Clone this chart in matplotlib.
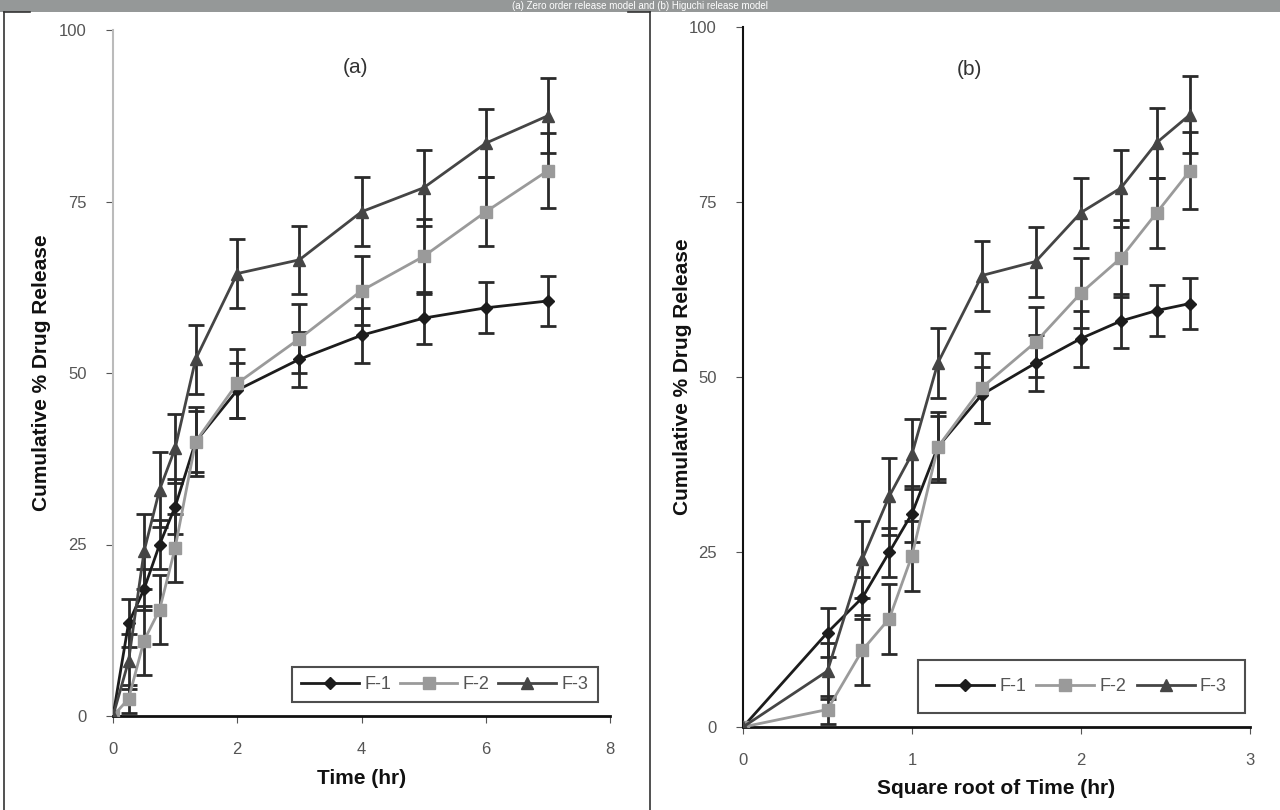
import matplotlib.pyplot as plt
from matplotlib.lines import Line2D
from matplotlib.patches import Rectangle

# sampling times (hr) and their square roots
time_hr = [0, 0.25, 0.5, 0.75, 1, 1.33, 2, 3, 4, 5, 6, 7]
sqrt_time = [0, 0.5, 0.707, 0.866, 1, 1.153, 1.414, 1.732, 2, 2.236, 2.449, 2.646]

# cumulative % drug release
f1 = [0, 13.5, 18.5, 25, 30.5, 40, 47.5, 52, 55.5, 58, 59.5, 60.5]
f2 = [0, 2.5, 11, 15.5, 24.5, 40, 48.5, 55, 62, 67, 73.5, 79.5]
f3 = [0, 8, 24, 33, 39, 52, 64.5, 66.5, 73.5, 77, 83.5, 87.5]

# standard deviations
f1_err = [0, 3.5, 3, 3.5, 4, 4.5, 4, 4, 4, 3.8, 3.7, 3.6]
f2_err = [0, 2, 5, 5, 5, 5, 5, 5, 5, 5.5, 5, 5.5]
f3_err = [0, 4, 5.5, 5.5, 5, 5, 5, 5, 5, 5.5, 5, 5.5]

series = [
    ('F-1', f1, f1_err, 'D', 6, '#1c1c1c'),
    ('F-2', f2, f2_err, 's', 9, '#9a9a9a'),
    ('F-3', f3, f3_err, '^', 9, '#454545'),
]

plt.rcParams['font.family'] = ['Liberation Sans', 'DejaVu Sans']

fig = plt.figure(figsize=(12.8, 8.1), dpi=100)

# grey caption banner
fig.patches.append(Rectangle((0, 798 / 810), 1, 12 / 810, transform=fig.transFigure,
                             facecolor='#959898', edgecolor='none', zorder=0))
fig.text(0.5, 804 / 810, '(a) Zero order release model and (b) Higuchi release model',
         ha='center', va='center', color='white', fontsize=7)

# panel frames
for xs in ([4 / 1280, 4 / 1280], [650 / 1280, 650 / 1280]):
    fig.add_artist(Line2D(xs, [0, 798 / 810], transform=fig.transFigure,
                          color='#333333', lw=1.2))
for xs in ([4 / 1280, 30 / 1280], [628 / 1280, 650 / 1280]):
    fig.add_artist(Line2D(xs, [798 / 810, 798 / 810], transform=fig.transFigure,
                          color='#333333', lw=1.2))


def draw_panel(ax, x, xlim, xticks, xlabel, tag, tag_pos, ycolor, legend_box,
               ylabel_x, leg_pad):
    for name, y, err, mk, ms, col in series:
        ax.errorbar(x, y, yerr=err, fmt='none', ecolor='#2a2a2a', elinewidth=2,
                    capsize=6, capthick=2, zorder=2)
        ax.plot(x, y, color=col, lw=2, marker=mk, markersize=ms,
                markerfacecolor=col, markeredgecolor=col, label=name, zorder=3)
    ax.set_xlim(*xlim)
    ax.set_ylim(0, 100)
    ax.set_xticks(xticks)
    ax.set_yticks([0, 25, 50, 75, 100])
    ax.spines['top'].set_visible(False)
    ax.spines['right'].set_visible(False)
    ax.spines['left'].set_color(ycolor)
    ax.spines['left'].set_linewidth(1.5)
    ax.spines['bottom'].set_color('#111111')
    ax.spines['bottom'].set_linewidth(2)
    ax.tick_params(axis='both', labelsize=12, labelcolor='#555555',
                   color='#555555', length=5, direction='out', pad=14)
    ax.set_xlabel(xlabel, fontsize=15, fontweight='bold', color='#111111', labelpad=8)
    ax.set_ylabel('Cumulative % Drug Release', fontsize=15, fontweight='bold',
                  color='#111111')
    ax.yaxis.set_label_coords(ylabel_x, 0.5)
    ax.text(tag_pos[0], tag_pos[1], tag, fontsize=15, color='#333333',
            ha='center', va='center')
    leg = ax.legend(loc='lower left', bbox_to_anchor=legend_box, ncol=3,
                    frameon=True, fancybox=False, fontsize=13, handlelength=3.2,
                    handletextpad=0.3, columnspacing=0.4, borderpad=leg_pad,
                    mode='expand', borderaxespad=0)
    leg.get_frame().set_edgecolor('#222222')
    leg.get_frame().set_linewidth(1.5)
    for t in leg.get_texts():
        t.set_color('#555555')


ax1 = fig.add_axes([113 / 1280, 94 / 810, 497 / 1280, 686 / 810])
draw_panel(ax1, time_hr, (0, 8), [0, 2, 4, 6, 8], 'Time (hr)', '(a)', (3.9, 94.5),
           '#bbbbbb', (0.36, 0.02, 0.615, 0.064), -0.125, 0.5)

ax2 = fig.add_axes([743 / 1280, 83 / 810, 507 / 1280, 700 / 810])
draw_panel(ax2, sqrt_time, (0, 3), [0, 1, 2, 3], 'Square root of Time (hr)', '(b)',
           (1.34, 94), '#111111', (0.345, 0.02, 0.645, 0.072), -0.1, 1.0)

fig.savefig('out.png', dpi=100)
